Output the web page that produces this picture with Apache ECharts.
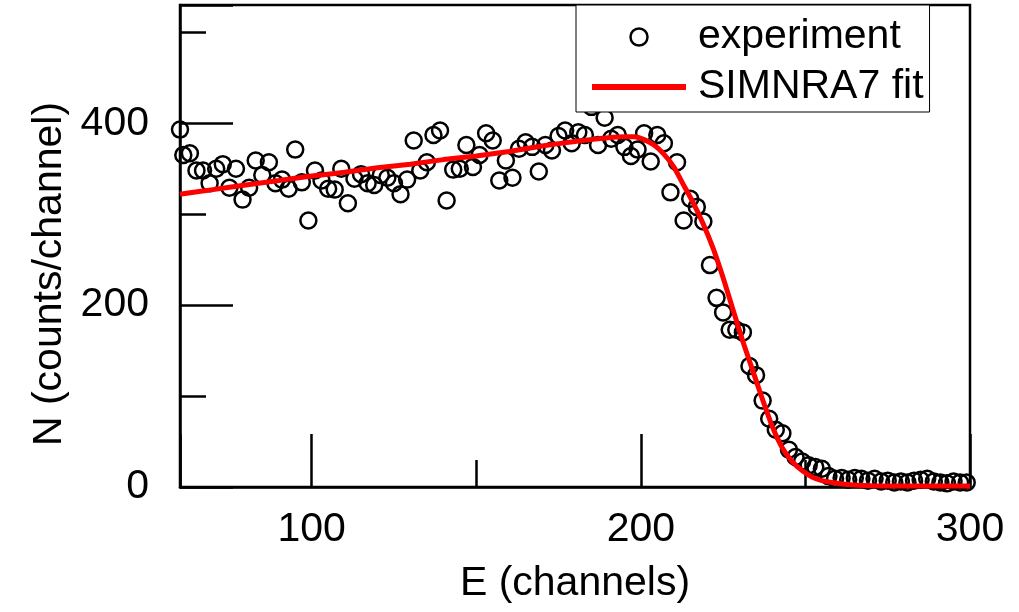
<!DOCTYPE html>
<html><head><meta charset="utf-8">
<script src="https://cdn.jsdelivr.net/npm/echarts@6/dist/echarts.min.js"></script>
<style>html,body{margin:0;padding:0;background:#fff}#c{width:1019px;height:612px}</style>
</head><body><div id="c"></div>
<script>
const expChannels = [60,61,63,65,67,69,71,73,75,77,79,81,83,85,87,89,91,93,95,97,99,
  101,103,105,107,109,111,113,115,117,119,121,123,125,127,129,131,133,135,137,139,
  141,143,145,147,149,151,153,155,157,159,161,163,165,167,169,171,173,175,177,179,
  181,183,185,187,189,191,193,195,197,199,201,203,205,207,209,211,213,215,217,219,
  221,223,225,227,229,231,233,235,237,239,241,243,245,247,249,251,253,255,257,259,
  261,263,265,267,269,271,273,275,277,279,281,283,285,287,289,291,293,295,297,299];
const expCounts = [393,365,367,348,348,334,350,355,329,350,316,329,359,343,357,334,338,328,371,335,293,
  348,337,328,327,350,312,339,344,334,332,343,340,334,322,338,381,348,357,387,392,
  315,349,350,376,352,365,389,381,337,359,340,372,379,374,347,376,370,386,392,378,
  390,387,418,376,406,383,387,374,364,371,389,358,387,378,324,357,293,317,308,292,
  244,208,192,173,173,170,133,123,95,75,63,59,41,33,28,24,22,20,12,9,
  10,8,10,9,7,9,6,7,5,6,5,7,8,9,6,5,4,6,5,5];
const fitChannels = [60,70,80,90,100,110,120,130,140,150,160,170,180,185,190,195,198,201,204,207,210,213,216,219,222,225,228,231,234,237,240,243,246,249,252,255,258,262,266,270,280,290,300];
const fitCounts = [322,327,332,337,342,346,351,355,360,364,369,375,380,382,384,385,385,382,376,366,352,332,312,289,262,230,195,160,128,96,66,43,28,18,11,7,5,3,2,1.5,1,1,1];
const xTickLabels = ['100','200','300'];
const yTickLabels = ['0','200','400'];

const FONT = 'Liberation Sans, Arial, sans-serif';
const chart = echarts.init(document.getElementById('c'), null, {renderer:'canvas'});
const expData = expChannels.map((x,i)=>[x, expCounts[i]]);
const fitData = fitChannels.map((x,i)=>[x, fitCounts[i]]);
chart.setOption({
  animation:false,
  backgroundColor:'#fff',
  grid:{left:180,right:49,top:5,bottom:125,show:true,borderColor:'#000',borderWidth:2.5,backgroundColor:'transparent'},
  xAxis:{type:'value',min:60,max:300,splitNumber:3,
    axisLine:{show:true,onZero:false,lineStyle:{color:'#000',width:2.5}},
    axisTick:{show:true,inside:true,length:53,lineStyle:{color:'#000',width:2.5}},
    minorTick:{show:true,splitNumber:2,length:27,lineStyle:{color:'#000',width:2.5}},
    splitLine:{show:false},minorSplitLine:{show:false},
    axisLabel:{showMinLabel:false,margin:22,fontSize:41,color:'#000',fontFamily:FONT,
      formatter:v=>xTickLabels.includes(String(v))?String(v):''},
    name:'E (channels)',nameLocation:'middle',nameGap:76,
    nameTextStyle:{fontSize:41,color:'#000',fontFamily:FONT}},
  yAxis:{type:'value',min:0,max:530,interval:200,
    axisLine:{show:true,lineStyle:{color:'#000',width:2.5}},
    axisTick:{show:true,inside:true,length:53,lineStyle:{color:'#000',width:2.5}},
    minorTick:{show:true,splitNumber:2,length:26,lineStyle:{color:'#000',width:2.5}},
    splitLine:{show:false},minorSplitLine:{show:false},
    axisLabel:{showMaxLabel:false,margin:31,fontSize:41,color:'#000',fontFamily:FONT,
      formatter:v=>yTickLabels.includes(String(v))?String(v):''},
    name:'N (counts/channel)',nameLocation:'middle',nameGap:106,
    nameTextStyle:{fontSize:41,color:'#000',fontFamily:FONT,padding:[0,56,0,0]}},
  legend:{orient:'vertical',left:576,top:5,padding:[9,6,2,16],itemGap:4,itemWidth:94,itemHeight:17,
    backgroundColor:'#fff',borderColor:'#000',borderWidth:1,borderRadius:0,
    textStyle:{fontSize:41,color:'#000',fontFamily:FONT,lineHeight:46,padding:[0,0,0,7]},
    data:[
      {name:'experiment',icon:'circle',itemStyle:{color:'transparent',borderColor:'#000',borderWidth:2.5,opacity:1}},
      {name:'SIMNRA7 fit',icon:'path://M0,0H94V6H0Z',itemStyle:{color:'#ff0000',borderWidth:0}}
    ]},
  series:[
    {name:'experiment',type:'scatter',data:expData,symbol:'circle',symbolSize:16,
      itemStyle:{color:'transparent',borderColor:'#000',borderWidth:2.5,opacity:1},z:2},
    {name:'SIMNRA7 fit',type:'line',data:fitData,symbol:'none',showSymbol:false,smooth:0.2,
      lineStyle:{color:'#ff0000',width:5},itemStyle:{color:'#ff0000'},z:3}
  ]
});
</script></body></html>
